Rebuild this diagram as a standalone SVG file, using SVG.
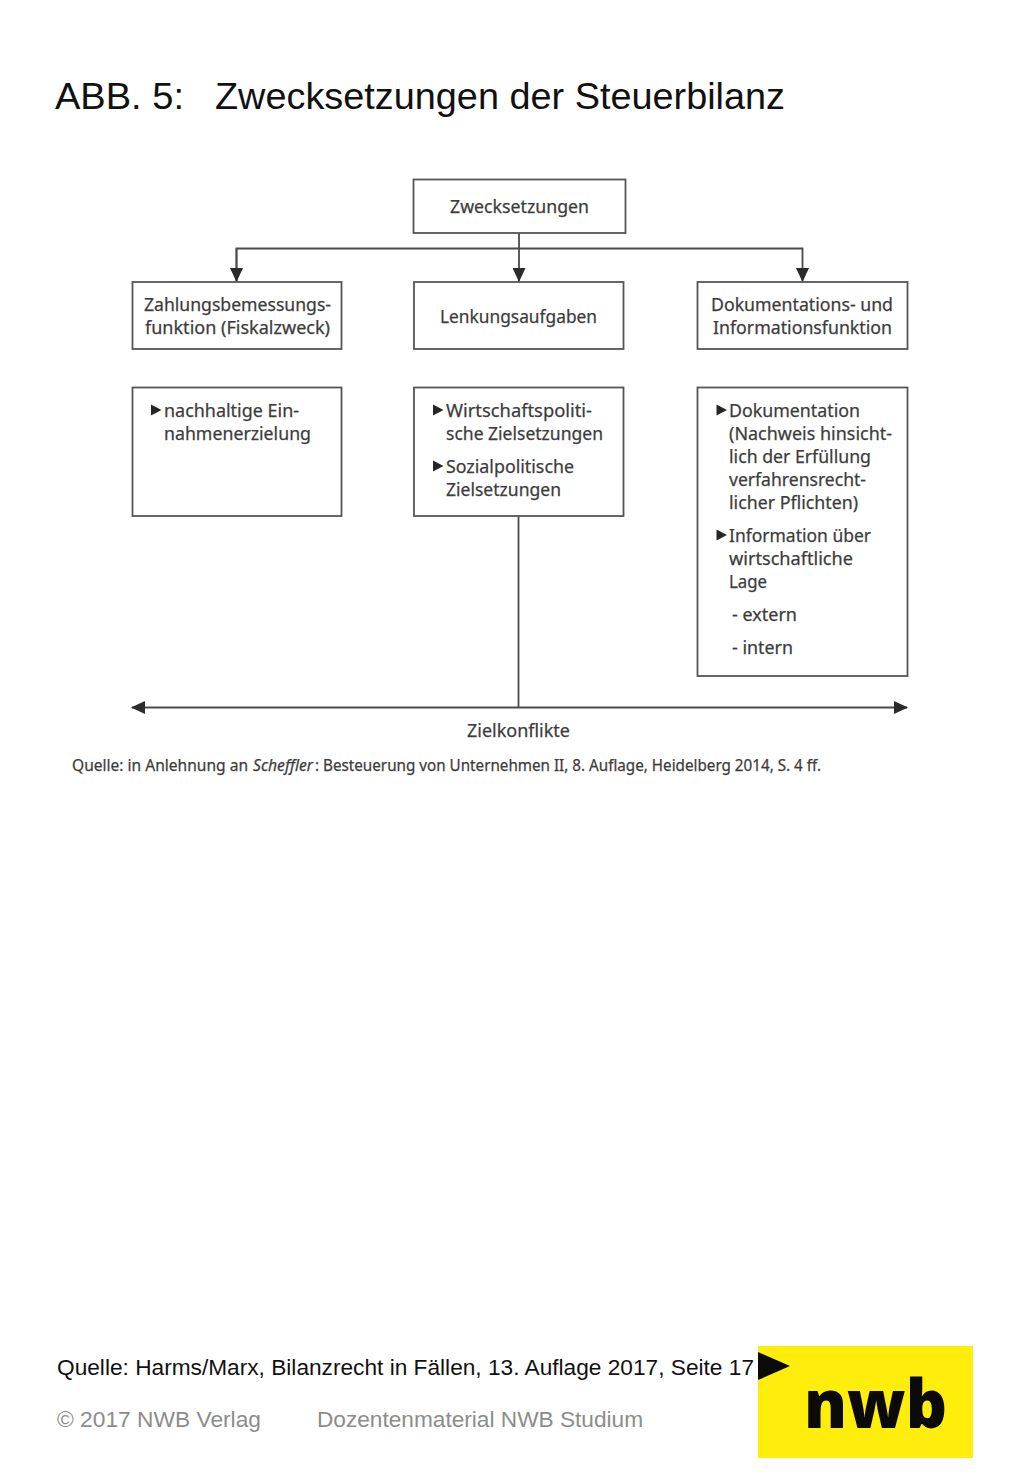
<svg xmlns="http://www.w3.org/2000/svg" width="1024" height="1479" viewBox="0 0 1024 1479">
<defs>
<style>
.box{fill:#fff;stroke:#555;stroke-width:1.8}
.line{fill:none;stroke:#4a4a4a;stroke-width:1.8}
.t{font-family:"Noto Sans","Open Sans",sans-serif;font-size:18px;fill:#3c3c3c;stroke:#3c3c3c;stroke-width:.25}
.q{font-size:16px}
.s{font-family:"Liberation Sans",Arial,sans-serif}
.b{fill:#262626}
</style>
<marker id="ah" markerUnits="userSpaceOnUse" markerWidth="14" markerHeight="13" refX="13" refY="6.500" orient="auto"><path d="M0 0L14 6.500L0 13Z" fill="#2b2b2b"/></marker>
</defs>
<rect width="1024" height="1479" fill="#fff"/>
<text class="s" x="55" y="109" font-size="37.500" fill="#111" textLength="129" lengthAdjust="spacingAndGlyphs">ABB. 5:</text>
<text class="s" x="215" y="109" font-size="37.500" fill="#111" textLength="570" lengthAdjust="spacingAndGlyphs">Zwecksetzungen der Steuerbilanz</text>
<g id="connectors">
<path class="line" d="M519 233V281" marker-end="url(#ah)"/>
<path class="line" d="M236.500 281V248.500H802.500V281" marker-end="url(#ah)"/>
<path class="line" d="M236.500 248.500V281" marker-end="url(#ah)"/>
<path class="line" d="M518.500 516V707"/>
<path class="line" d="M519 707.500H907" marker-end="url(#ah)"/>
<path class="line" d="M519 707.500H132" marker-end="url(#ah)"/>
</g>
<g id="n-zweck"><rect class="box" x="413.500" y="179.500" width="212" height="53.500"/><text class="t" x="450" y="213" textLength="139" lengthAdjust="spacingAndGlyphs">Zwecksetzungen</text></g>
<g id="n-zahl"><rect class="box" x="132.500" y="282" width="209" height="67"/><text class="t" x="144" y="311" textLength="187" lengthAdjust="spacingAndGlyphs">Zahlungsbemessungs-</text><text class="t" x="145" y="334" textLength="185" lengthAdjust="spacingAndGlyphs">funktion (Fiskalzweck)</text></g>
<g id="n-lenk"><rect class="box" x="414" y="282" width="209.500" height="67"/><text class="t" x="440" y="322.500" textLength="157" lengthAdjust="spacingAndGlyphs">Lenkungsaufgaben</text></g>
<g id="n-doku"><rect class="box" x="697.500" y="282" width="210" height="67"/><text class="t" x="711" y="311" textLength="182" lengthAdjust="spacingAndGlyphs">Dokumentations- und</text><text class="t" x="713" y="334" textLength="179" lengthAdjust="spacingAndGlyphs">Informationsfunktion</text></g>
<g id="n-nach"><rect class="box" x="132.500" y="387.500" width="209" height="128.500"/><path class="b" d="M151 404.500L161.500 410L151 415.500Z"/><text class="t" x="164" y="417" textLength="135" lengthAdjust="spacingAndGlyphs">nachhaltige Ein-</text><text class="t" x="164" y="440" textLength="147" lengthAdjust="spacingAndGlyphs">nahmenerzielung</text></g>
<g id="n-wirt"><rect class="box" x="414" y="387.500" width="209.500" height="128.500"/><path class="b" d="M433 404.500L443.500 410L433 415.500Z"/><path class="b" d="M433 460.500L443.500 466L433 471.500Z"/><text class="t" x="446" y="417" textLength="146" lengthAdjust="spacingAndGlyphs">Wirtschaftspoliti-</text><text class="t" x="446" y="440" textLength="157" lengthAdjust="spacingAndGlyphs">sche Zielsetzungen</text><text class="t" x="446" y="473" textLength="128" lengthAdjust="spacingAndGlyphs">Sozialpolitische</text><text class="t" x="446" y="496" textLength="115" lengthAdjust="spacingAndGlyphs">Zielsetzungen</text></g>
<g id="n-info"><rect class="box" x="697.500" y="387.500" width="210" height="288.500"/><path class="b" d="M716.500 404.500L727 410L716.500 415.500Z"/><path class="b" d="M716.500 529.500L727 535L716.500 540.500Z"/>
<text class="t" x="729" y="417" textLength="131" lengthAdjust="spacingAndGlyphs">Dokumentation</text>
<text class="t" x="729" y="439.500" textLength="163" lengthAdjust="spacingAndGlyphs">(Nachweis hinsicht-</text>
<text class="t" x="729" y="462.500" textLength="142" lengthAdjust="spacingAndGlyphs">lich der Erfüllung</text>
<text class="t" x="729" y="485.500" textLength="137" lengthAdjust="spacingAndGlyphs">verfahrensrecht-</text>
<text class="t" x="729" y="508.500" textLength="129" lengthAdjust="spacingAndGlyphs">licher Pflichten)</text>
<text class="t" x="729" y="542" textLength="142" lengthAdjust="spacingAndGlyphs">Information über</text>
<text class="t" x="729" y="565" textLength="124" lengthAdjust="spacingAndGlyphs">wirtschaftliche</text>
<text class="t" x="729" y="588" textLength="38" lengthAdjust="spacingAndGlyphs">Lage</text>
<text class="t" x="732" y="621" textLength="65" lengthAdjust="spacingAndGlyphs">- extern</text>
<text class="t" x="732" y="654" textLength="61" lengthAdjust="spacingAndGlyphs">- intern</text></g>
<text class="t" x="467" y="737" textLength="103" lengthAdjust="spacingAndGlyphs">Zielkonflikte</text>
<text class="t q" x="72" y="771" textLength="176" lengthAdjust="spacingAndGlyphs">Quelle: in Anlehnung an</text>
<text class="t q" x="253" y="771" font-style="italic" textLength="60" lengthAdjust="spacingAndGlyphs">Scheffler</text>
<text class="t q" x="315" y="771" textLength="506" lengthAdjust="spacingAndGlyphs">: Besteuerung von Unternehmen II, 8. Auflage, Heidelberg 2014, S. 4 ff.</text>
<text class="s" x="57" y="1375" font-size="22" fill="#111" textLength="697" lengthAdjust="spacingAndGlyphs">Quelle: Harms/Marx, Bilanzrecht in Fällen, 13. Auflage 2017, Seite 17</text>
<text class="s" x="57" y="1427" font-size="22" fill="#8c8c8c" textLength="204" lengthAdjust="spacingAndGlyphs">© 2017 NWB Verlag</text>
<text class="s" x="317" y="1427" font-size="22" fill="#8c8c8c" textLength="326" lengthAdjust="spacingAndGlyphs">Dozentenmaterial NWB Studium</text>
<g id="logo"><rect x="758" y="1346" width="215" height="112" fill="#ffed0c"/><path d="M758 1352L790 1366L758 1380Z" fill="#0a0a0a"/><text x="804" y="1428" font-family="'Open Sans','Liberation Sans',sans-serif" font-weight="800" font-size="68" fill="#0a0a0a" textLength="143" lengthAdjust="spacingAndGlyphs">nwb</text></g>
</svg>
